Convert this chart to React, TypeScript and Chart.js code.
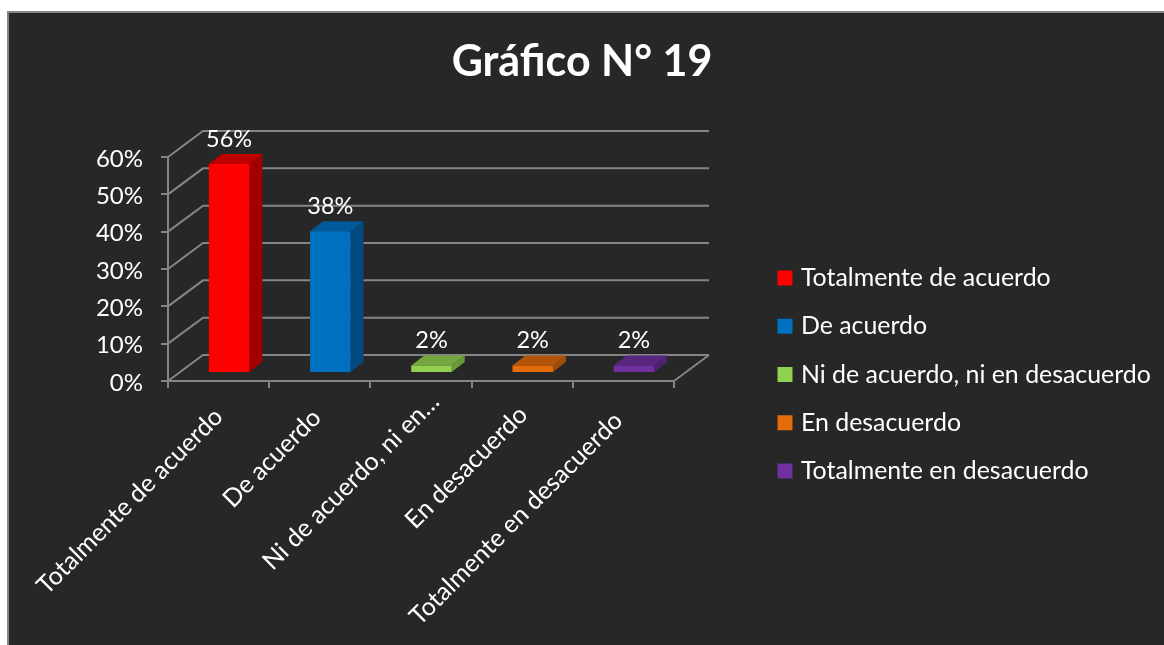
import React, { useEffect, useRef } from "react";
import { Chart, registerables } from "chart.js";

Chart.register(...registerables);

const categories = [
  "Totalmente de acuerdo",
  "De acuerdo",
  "Ni de acuerdo, ni en desacuerdo",
  "En desacuerdo",
  "Totalmente en desacuerdo",
];
const axisLabels = [
  "Totalmente de acuerdo",
  "De acuerdo",
  "Ni de acuerdo, ni en…",
  "En desacuerdo",
  "Totalmente en desacuerdo",
];
const values = [56, 38, 2, 2, 2];
const frontColors = ["#ff0000", "#0070c0", "#92d050", "#e46c0a", "#7030a0"];
const topColors = ["#c00000", "#005a99", "#74a640", "#b35508", "#592680"];
const sideColors = ["#a00000", "#004a80", "#6a9a3a", "#9f4c07", "#4e2270"];

const FONT = "Lato, Carlito, Calibri, sans-serif";
const GRID = "#858585";
const BG = "#272727";
const X_TICK_SIZE = 25;
const Y_TICK_SIZE = 24;
const VALUE_SIZE = 23.5;
const LEGEND_SIZE = 24.9;
const LEGEND_GAP = 48.25;
const WALL_DX = 35;
const WALL_DY = -26;
const BAR_DX = 10.5;
const BAR_DY = -8;
const FACE_DX = 13;
const FACE_DY = -10;
const X_LABEL_NUDGE = [
  [0, 2],
  [-3, 3],
  [14, -13],
  [1, 0],
  [-5, 6],
];

const threeD = {
  id: "threeD",
  beforeLayout(chart: any) {
    const lg = chart.legend;
    if (lg && !lg.__wrapped) {
      lg.__wrapped = true;
      const fit = lg.fit;
      lg.fit = function () {
        fit.call(this);
        this.width = 490;
      };
    }
    const xs = chart.scales.x;
    if (xs && !xs.__wrapped) {
      xs.__wrapped = true;
      const compute = xs._computeLabelItems;
      xs._computeLabelItems = function (area: any) {
        const items = compute.call(this, area);
        items.forEach((it: any, i: number) => {
          const t = it.options.translation;
          it.options.translation = [t[0] + X_LABEL_NUDGE[i][0], t[1] + X_LABEL_NUDGE[i][1]];
        });
        return items;
      };
    }
  },
  afterLayout(chart: any) {
    const lg = chart.legend;
    const p = LEGEND_GAP - LEGEND_SIZE;
    lg.left = 781.5 - p;
    lg.right = 1164;
    lg.top = 278 - LEGEND_SIZE / 2 - p;
    lg.bottom = 645;
  },
  beforeDraw(chart: any) {
    const { ctx, width, height } = chart;
    ctx.save();
    ctx.fillStyle = "#ffffff";
    ctx.fillRect(0, 0, width, height);
    ctx.fillStyle = GRID;
    ctx.fillRect(7, 11, width, height);
    ctx.fillStyle = BG;
    ctx.fillRect(9, 13, width, height);
    ctx.restore();
  },
  beforeDatasetsDraw(chart: any) {
    const { ctx, chartArea, scales } = chart;
    const { left, right, bottom } = chartArea;
    ctx.save();
    ctx.strokeStyle = GRID;
    ctx.lineWidth = 2;
    for (const t of scales.y.ticks) {
      const y = scales.y.getPixelForValue(t.value);
      ctx.beginPath();
      ctx.moveTo(left, y);
      ctx.lineTo(left + WALL_DX, y + WALL_DY);
      ctx.lineTo(right + WALL_DX, y + WALL_DY);
      ctx.stroke();
    }
    ctx.beginPath();
    ctx.moveTo(right, bottom);
    ctx.lineTo(right + WALL_DX, bottom + WALL_DY);
    ctx.stroke();
    ctx.restore();
  },
  beforeDatasetDraw(chart: any, args: any) {
    const { ctx } = chart;
    ctx.save();
    ctx.translate(BAR_DX, BAR_DY);
    args.meta.data.forEach((el: any, i: number) => {
      const l = el.x - el.width / 2;
      const r = el.x + el.width / 2;
      ctx.fillStyle = sideColors[i];
      ctx.beginPath();
      ctx.moveTo(r, el.y);
      ctx.lineTo(r + FACE_DX, el.y + FACE_DY);
      ctx.lineTo(r + FACE_DX, el.base + FACE_DY);
      ctx.lineTo(r, el.base);
      ctx.closePath();
      ctx.fill();
      ctx.fillStyle = topColors[i];
      ctx.beginPath();
      ctx.moveTo(l, el.y);
      ctx.lineTo(l + FACE_DX, el.y + FACE_DY);
      ctx.lineTo(r + FACE_DX, el.y + FACE_DY);
      ctx.lineTo(r, el.y);
      ctx.closePath();
      ctx.fill();
    });
  },
  afterDatasetDraw(chart: any, args: any) {
    const { ctx } = chart;
    ctx.fillStyle = "#ffffff";
    ctx.font = `${VALUE_SIZE}px ${FONT}`;
    ctx.textAlign = "center";
    ctx.textBaseline = "middle";
    args.meta.data.forEach((el: any, i: number) => {
      ctx.fillText(`${values[i]}%`, el.x, el.y - 25);
    });
    ctx.restore();
  },
};

export default function App() {
  const ref = useRef<HTMLCanvasElement>(null);
  useEffect(() => {
    document.body.style.margin = "0";
    const chart = new Chart(ref.current!, {
      type: "bar",
      data: {
        labels: categories,
        datasets: [
          {
            data: values,
            backgroundColor: frontColors,
            barPercentage: 0.4,
            categoryPercentage: 1,
            clip: false as any,
          },
        ],
      },
      options: {
        animation: false,
        responsive: false,
        maintainAspectRatio: false,
        layout: { padding: 0 },
        plugins: {
          tooltip: { enabled: false },
          title: {
            display: true,
            text: "Gráfico N° 19",
            color: "#ffffff",
            font: { family: FONT, size: 43, weight: "bold" },
            padding: { top: 36, bottom: 69.4 },
          },
          legend: {
            position: "right",
            align: "start",
            labels: {
              boxWidth: 7,
              boxHeight: 7,
              padding: LEGEND_GAP - LEGEND_SIZE,
              font: { family: FONT, size: LEGEND_SIZE },
              generateLabels: () =>
                categories.map((text, i) => ({
                  text,
                  fillStyle: frontColors[i],
                  strokeStyle: frontColors[i],
                  lineWidth: 8,
                  fontColor: "#ffffff",
                  index: i,
                })),
            },
          },
        },
        scales: {
          x: {
            afterFit: (s: any) => {
              s.height = 264;
            },
            grid: {
              offset: true,
              drawOnChartArea: false,
              drawTicks: true,
              tickLength: 7,
              color: GRID,
              lineWidth: 2,
            },
            border: { color: GRID, width: 2 },
            ticks: {
              color: "#ffffff",
              font: { family: FONT, size: X_TICK_SIZE },
              autoSkip: false,
              minRotation: 45,
              maxRotation: 45,
              padding: 12,
              callback: (_v: any, i: number) => axisLabels[i],
            },
          },
          y: {
            min: 0,
            max: 60,
            afterFit: (s: any) => {
              s.width = 168;
            },
            grid: {
              drawOnChartArea: false,
              drawTicks: true,
              tickLength: 7,
              color: GRID,
              lineWidth: 2,
            },
            border: { color: GRID, width: 2 },
            ticks: {
              stepSize: 10,
              color: "#ffffff",
              font: { family: FONT, size: Y_TICK_SIZE },
              padding: 18,
              labelOffset: 2,
              callback: (v: any) => `${v}%`,
            },
          },
        },
      },
      plugins: [threeD],
    } as any);
    return () => chart.destroy();
  }, []);
  return (
    <canvas
      ref={ref}
      width={1164}
      height={645}
      style={{ display: "block", position: "absolute", left: 0, top: 0 }}
    />
  );
}
